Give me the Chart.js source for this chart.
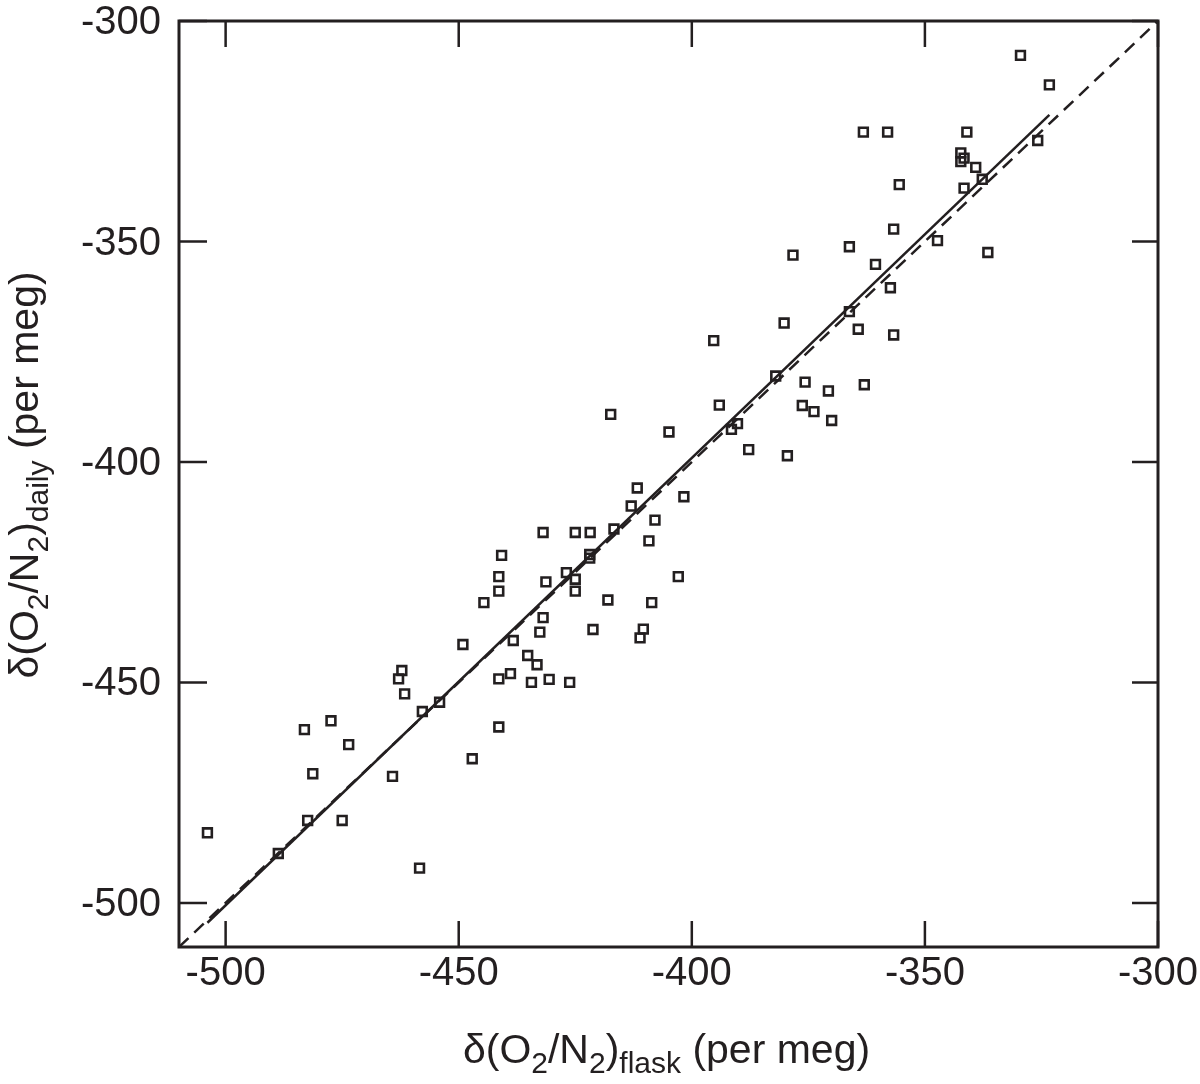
<!DOCTYPE html>
<html>
<head>
<meta charset="utf-8">
<script src="https://cdn.jsdelivr.net/npm/chart.js@4.4.1/dist/chart.umd.min.js"></script>
<style>
html,body{margin:0;padding:0;background:#ffffff;}
#wrap{width:1200px;height:1084px;position:relative;}
</style>
</head>
<body>
<div id="wrap"><canvas id="c" width="1200" height="1084"></canvas></div>
<script>
// flask vs daily δ(O2/N2) values (per meg)
const flaskX = [
  -449.1,-462.2,-462.9,-461.6,-457.8,-454.1,-441.4,-441.4,-447.1,-477.4,
  -483.1,-473.6,-481.3,-464.2,-482.4,-475.0,-503.9,-488.7,-458.4,-417.4,
  -394.1,-404.9,-391.5,-411.7,-413.0,-401.7,-407.9,-409.2,-431.9,-425.0,
  -421.8,-416.7,-421.9,-421.9,-440.8,-441.4,-441.4,-444.6,-431.3,-426.9,
  -425.0,-425.0,-418.0,-408.6,-402.9,-431.9,-432.6,-421.2,-410.4,-411.1,
  -438.3,-435.2,-433.2,-438.9,-434.4,-430.6,-426.2,-356.7,-347.3,-366.2,
  -378.3,-360.6,-357.4,-366.2,-364.3,-356.7,-380.2,-395.3,-382.0,-375.7,
  -370.7,-363.0,-376.3,-373.8,-370.0,-390.2,-387.8,-379.5,-329.5,-323.3,
  -363.2,-358.0,-341.0,-342.3,-341.6,-342.3,-339.1,-337.7,-325.8,-355.5,
  -341.6,-336.5
];
const dailyY = [
  -441.4,-447.3,-449.2,-452.6,-456.6,-454.5,-449.2,-460.1,-467.3,-458.7,
  -460.7,-464.1,-470.7,-471.3,-481.3,-481.3,-484.1,-488.8,-492.1,-389.2,
  -387.1,-393.2,-392.6,-405.9,-410.0,-407.9,-413.2,-417.9,-416.0,-416.0,
  -416.0,-415.2,-421.0,-421.8,-421.2,-426.0,-429.3,-431.9,-427.2,-425.1,
  -426.6,-429.3,-431.3,-431.9,-426.0,-435.3,-438.6,-438.0,-437.9,-439.9,
  -440.5,-443.9,-446.0,-448.0,-450.0,-449.3,-450.0,-347.2,-349.8,-351.2,
  -353.1,-355.2,-360.5,-365.9,-369.9,-371.2,-368.5,-372.5,-380.5,-381.9,
  -383.9,-382.5,-387.2,-388.6,-390.6,-391.3,-397.2,-398.6,-307.8,-314.5,
  -325.2,-325.2,-325.2,-329.9,-331.1,-331.9,-333.2,-335.9,-327.1,-337.1,
  -337.9,-352.5
];
// 1:1 line (dashed)
const oneToOneX = [-510, -300];
const oneToOneY = [-510, -300];
// fitted line (solid)
const fitX = [-503.9, -323.3];
const fitY = [-504.5, -321.3];
// tick labels
const tickValues = [-500, -450, -400, -350, -300];
const axisMin = -510, axisMax = -300;

const INK = '#231f20';
const FONT = '"Liberation Sans", Arial, Helvetica, sans-serif';

function toPts(xs, ys){ return xs.map((v,i)=>({x:v, y:ys[i]})); }

function drawRich(ctx, parts, cx, baseY){
  const main = 41, sub = 30, drop = 10;
  let total = 0;
  parts.forEach(p=>{
    ctx.font = (p.sub?sub:main) + 'px ' + FONT;
    p.w = ctx.measureText(p.t).width;
    total += p.w;
  });
  let x = cx - total/2;
  ctx.textAlign = 'left';
  ctx.textBaseline = 'alphabetic';
  parts.forEach(p=>{
    ctx.font = (p.sub?sub:main) + 'px ' + FONT;
    ctx.fillText(p.t, x, baseY + (p.sub?drop:0));
    x += p.w;
  });
}

const framePlugin = {
  id: 'frame',
  afterDraw(chart){
    const {ctx, chartArea:a, scales:{x, y}} = chart;
    const TICK = 26;
    ctx.save();
    ctx.strokeStyle = INK;
    ctx.lineWidth = 2.5;
    ctx.beginPath();
    tickValues.forEach(v=>{
      const px = x.getPixelForValue(v);
      ctx.moveTo(px, a.bottom); ctx.lineTo(px, a.bottom - TICK);
      ctx.moveTo(px, a.top); ctx.lineTo(px, a.top + TICK);
      const py = y.getPixelForValue(v);
      ctx.moveTo(a.left, py); ctx.lineTo(a.left + TICK + 2, py);
      ctx.moveTo(a.right, py); ctx.lineTo(a.right - TICK, py);
    });
    ctx.stroke();
    ctx.lineWidth = 3;
    ctx.strokeRect(a.left, a.top, a.right - a.left, a.bottom - a.top);

    ctx.fillStyle = INK;
    // x title
    drawRich(ctx, [
      {t:'δ(O'},{t:'2',sub:true},{t:'/N'},{t:'2',sub:true},{t:')'},
      {t:'flask',sub:true},{t:' (per meg)'}
    ], (a.left + a.right)/2 - 2, 1063);
    // y title
    ctx.save();
    ctx.translate(38, (a.top + a.bottom)/2 - 9);
    ctx.rotate(-Math.PI/2);
    drawRich(ctx, [
      {t:'δ(O'},{t:'2',sub:true},{t:'/N'},{t:'2',sub:true},{t:')'},
      {t:'daily',sub:true},{t:' (per meg)'}
    ], 0, 0);
    ctx.restore();
    ctx.restore();
  }
};

const tickCommon = {
  font: {family: FONT, size: 40},
  color: INK,
  autoSkip: false,
  maxRotation: 0,
  minRotation: 0
};

new Chart(document.getElementById('c'), {
  type: 'scatter',
  data: {
    datasets: [
      {
        label: 'daily vs flask',
        data: toPts(flaskX, dailyY),
        pointStyle: 'rect',
        pointRadius: 6.2,
        pointHoverRadius: 6.2,
        pointBorderWidth: 2.6,
        borderColor: INK,
        backgroundColor: 'rgba(0,0,0,0)',
        showLine: false,
        order: 0
      },
      {
        label: '1:1',
        data: toPts(oneToOneX, oneToOneY),
        showLine: true,
        borderColor: INK,
        borderWidth: 2.5,
        borderDash: [13, 8],
        pointRadius: 0,
        fill: false,
        order: 2
      },
      {
        label: 'fit',
        data: toPts(fitX, fitY),
        showLine: true,
        borderColor: INK,
        borderWidth: 2.5,
        pointRadius: 0,
        fill: false,
        order: 1
      }
    ]
  },
  options: {
    responsive: false,
    animation: false,
    devicePixelRatio: 1,
    layout: {padding: {left: 0, right: 42, top: 21, bottom: 0}},
    plugins: {legend: {display: false}, tooltip: {enabled: false}, title: {display: false}},
    scales: {
      x: {
        type: 'linear', position: 'bottom', min: axisMin, max: axisMax,
        afterBuildTicks: s => { s.ticks = tickValues.map(v => ({value: v})); },
        grid: {display: false, drawTicks: false},
        border: {display: false},
        ticks: Object.assign({padding: 3}, tickCommon),
        afterFit: s => { s.height = 137; s.paddingLeft = 0; s.paddingRight = 0; }
      },
      y: {
        type: 'linear', position: 'left', min: axisMin, max: axisMax,
        afterBuildTicks: s => { s.ticks = tickValues.map(v => ({value: v})); },
        grid: {display: false, drawTicks: false},
        border: {display: false},
        ticks: Object.assign({padding: 18, labelOffset: 2}, tickCommon),
        afterFit: s => { s.width = 179; s.paddingTop = 0; s.paddingBottom = 0; }
      }
    }
  },
  plugins: [framePlugin]
});
</script>
</body>
</html>
